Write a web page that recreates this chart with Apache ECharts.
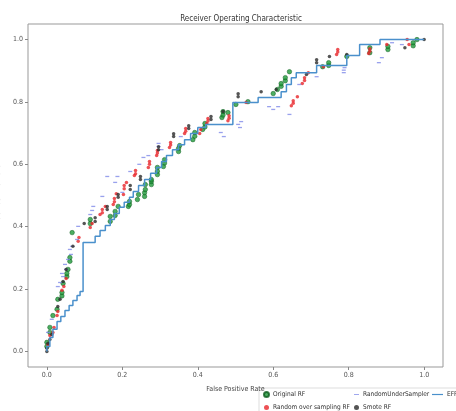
<!DOCTYPE html>
<html>
<head>
<meta charset="utf-8">
<script src="https://cdn.jsdelivr.net/npm/echarts@6/dist/echarts.min.js"></script>
<style>
html, body { margin: 0; padding: 0; background: #fff; }
#roc { width: 456px; height: 411px; }
</style>
</head>
<body>
<div id="roc"></div>
<script>
// tick labels on both axes
var tickValues = [0, 0.2, 0.4, 0.6, 0.8, 1.0];

// EFRF roc curve, corner points (fpr, tpr), drawn as steps
var efrfFpr = [0, 0, 0.008, 0.016, 0.027, 0.037, 0.048, 0.059, 0.069, 0.08, 0.088, 0.096,
	0.128, 0.141, 0.155, 0.168, 0.179, 0.192, 0.205, 0.219, 0.229, 0.243, 0.259, 0.275,
	0.291, 0.304, 0.317, 0.333, 0.349, 0.365, 0.381, 0.4, 0.421, 0.493, 0.56, 0.621,
	0.635, 0.648, 0.661, 0.715, 0.795, 0.829, 0.883, 1.0];
var efrfTpr = [0, 0.016, 0.045, 0.071, 0.096, 0.112, 0.131, 0.147, 0.163, 0.179, 0.192, 0.349,
	0.369, 0.388, 0.404, 0.423, 0.442, 0.462, 0.478, 0.494, 0.513, 0.532, 0.551, 0.571,
	0.59, 0.609, 0.628, 0.647, 0.663, 0.679, 0.699, 0.718, 0.728, 0.798, 0.814, 0.833,
	0.856, 0.878, 0.894, 0.917, 0.949, 0.984, 1.0, 1.0];

// scatter points (fpr, tpr) for the other models
var originalRF = [
	[0, 0.016], [0, 0.029], [0.008, 0.061], [0.008, 0.077], [0.016, 0.115], [0.027, 0.135],
	[0.029, 0.167], [0.04, 0.178], [0.04, 0.189], [0.043, 0.218], [0.053, 0.24], [0.053, 0.25],
	[0.056, 0.263], [0.061, 0.289], [0.061, 0.301], [0.067, 0.381], [0.115, 0.41], [0.115, 0.423],
	[0.168, 0.417], [0.168, 0.433], [0.181, 0.436], [0.181, 0.449], [0.189, 0.465], [0.216, 0.465],
	[0.219, 0.471], [0.219, 0.481], [0.24, 0.487], [0.243, 0.503], [0.259, 0.497], [0.259, 0.509],
	[0.261, 0.519], [0.261, 0.535], [0.277, 0.535], [0.277, 0.545], [0.277, 0.551], [0.293, 0.567],
	[0.293, 0.578], [0.293, 0.59], [0.309, 0.593], [0.312, 0.604], [0.312, 0.615], [0.349, 0.641],
	[0.349, 0.651], [0.352, 0.66], [0.387, 0.679], [0.392, 0.69], [0.392, 0.702], [0.413, 0.712],
	[0.419, 0.72], [0.419, 0.731], [0.464, 0.75], [0.467, 0.758], [0.467, 0.769], [0.48, 0.766],
	[0.501, 0.792], [0.533, 0.801], [0.6, 0.827], [0.611, 0.84], [0.621, 0.85], [0.621, 0.859],
	[0.632, 0.868], [0.632, 0.878], [0.643, 0.897], [0.731, 0.913], [0.747, 0.917], [0.747, 0.926],
	[0.795, 0.946], [0.856, 0.958], [0.856, 0.974], [0.904, 0.968], [0.904, 0.978], [0.971, 0.98],
	[0.971, 0.99], [0.981, 1.0]
];
var overSamplingRF = [
	[0.003, 0.022], [0.008, 0.051], [0.016, 0.061], [0.019, 0.077], [0.027, 0.115], [0.029, 0.128],
	[0.04, 0.196], [0.045, 0.208], [0.051, 0.234], [0.083, 0.353], [0.085, 0.365], [0.115, 0.397],
	[0.12, 0.41], [0.141, 0.439], [0.147, 0.445], [0.147, 0.455], [0.155, 0.465], [0.176, 0.471],
	[0.179, 0.48], [0.179, 0.49], [0.184, 0.506], [0.203, 0.503], [0.205, 0.522], [0.205, 0.532],
	[0.211, 0.542], [0.232, 0.564], [0.235, 0.57], [0.235, 0.58], [0.269, 0.59], [0.272, 0.6],
	[0.272, 0.609], [0.291, 0.628], [0.293, 0.636], [0.293, 0.644], [0.325, 0.654], [0.328, 0.662],
	[0.328, 0.67], [0.365, 0.699], [0.368, 0.706], [0.368, 0.715], [0.405, 0.699], [0.408, 0.712],
	[0.424, 0.731], [0.427, 0.739], [0.427, 0.747], [0.48, 0.74], [0.483, 0.748], [0.483, 0.756],
	[0.528, 0.798], [0.648, 0.788], [0.653, 0.796], [0.653, 0.804], [0.664, 0.817], [0.677, 0.859],
	[0.683, 0.869], [0.683, 0.878], [0.693, 0.894], [0.733, 0.913], [0.768, 0.952], [0.771, 0.96],
	[0.771, 0.968], [0.853, 0.955], [0.856, 0.963], [0.856, 0.971], [0.901, 0.984], [0.955, 1.0],
	[0.96, 0.984]
];
var underSampler = [
	[0.003, 0.061], [0.013, 0.103], [0.029, 0.208], [0.035, 0.221], [0.043, 0.24], [0.04, 0.25],
	[0.051, 0.263], [0.048, 0.279], [0.056, 0.295], [0.064, 0.311], [0.061, 0.327], [0.067, 0.337],
	[0.08, 0.359], [0.083, 0.401], [0.115, 0.439], [0.12, 0.452], [0.123, 0.465], [0.147, 0.497],
	[0.2, 0.51], [0.16, 0.561], [0.187, 0.561], [0.181, 0.542], [0.221, 0.577], [0.245, 0.6],
	[0.256, 0.622], [0.269, 0.628], [0.296, 0.657], [0.296, 0.667], [0.304, 0.647], [0.355, 0.689],
	[0.461, 0.702], [0.469, 0.689], [0.507, 0.728], [0.512, 0.718], [0.515, 0.737], [0.589, 0.785],
	[0.6, 0.776], [0.613, 0.785], [0.643, 0.76], [0.669, 0.856], [0.715, 0.881], [0.787, 0.894],
	[0.787, 0.902], [0.789, 0.91], [0.88, 0.926], [0.888, 0.942], [0.915, 0.99], [0.941, 0.984]
];
var smoteRF = [
	[0, 0], [0, 0.01], [0.003, 0.026], [0.008, 0.038], [0.013, 0.054], [0.029, 0.144],
	[0.035, 0.167], [0.043, 0.224], [0.051, 0.263], [0.069, 0.337], [0.099, 0.41], [0.128, 0.417],
	[0.128, 0.429], [0.16, 0.455], [0.16, 0.465], [0.189, 0.494], [0.189, 0.503], [0.221, 0.519],
	[0.221, 0.532], [0.248, 0.551], [0.248, 0.561], [0.296, 0.647], [0.296, 0.656], [0.336, 0.689],
	[0.336, 0.698], [0.376, 0.715], [0.376, 0.724], [0.435, 0.744], [0.435, 0.753], [0.467, 0.769],
	[0.507, 0.817], [0.507, 0.826], [0.568, 0.833], [0.608, 0.84], [0.688, 0.888], [0.715, 0.926],
	[0.715, 0.935], [0.749, 0.946], [0.795, 0.952], [0.949, 0.974], [1.0, 1.0]
];

var narrow = '"Liberation Sans Narrow", "DejaVu Sans Condensed", sans-serif';

var efrfData = [];
for (var i = 0; i < efrfFpr.length; i++) {
	efrfData.push([efrfFpr[i], efrfTpr[i]]);
}

function fmt(v) {
	return v.toFixed(1);
}

var legendText = { fontFamily: narrow, fontSize: 6.5, color: '#333', padding: [0, 0, 0, -1] };

var chart = echarts.init(document.getElementById('roc'));

var option = {
	animation: false,
	backgroundColor: '#fff',
	title: {
		text: 'Receiver Operating Characteristic',
		left: 236,
		top: 10,
		textAlign: 'center',
		textStyle: { fontFamily: narrow, fontSize: 8, fontWeight: 'normal', color: '#333' }
	},
	grid: {
		left: 28,
		top: 24,
		width: 415,
		height: 343,
		containLabel: false,
		outerBoundsMode: 'none',
		show: true,
		borderColor: '#999',
		borderWidth: 1
	},
	xAxis: {
		type: 'value',
		min: -0.05,
		max: 1.05,
		name: 'False Positive Rate',
		nameLocation: 'middle',
		nameGap: 19,
		nameTextStyle: { fontFamily: narrow, fontSize: 7, color: '#444' },
		axisLine: { show: false, onZero: false },
		splitLine: { show: false },
		axisTick: { show: true, length: 3, lineStyle: { color: '#888' }, customValues: tickValues },
		axisLabel: { fontFamily: narrow, fontSize: 7, color: '#555', margin: 5, customValues: tickValues, formatter: fmt }
	},
	yAxis: {
		type: 'value',
		min: -0.05,
		max: 1.05,
		name: 'True Positive Rate',
		nameLocation: 'middle',
		nameGap: 16,
		nameTextStyle: { fontFamily: 'DejaVu Sans', fontSize: 7, color: '#555' },
		axisLine: { show: false, onZero: false },
		splitLine: { show: false },
		axisTick: { show: true, length: 3, lineStyle: { color: '#888' }, customValues: tickValues },
		axisLabel: { fontFamily: narrow, fontSize: 7, color: '#555', margin: 5, customValues: tickValues, formatter: fmt }
	},
	graphic: [{
		type: 'rect',
		shape: { x: 259, y: 388, width: 210, height: 40, r: 2 },
		style: { fill: '#fff', stroke: '#ddd', lineWidth: 1 },
		z: 0
	}],
	legend: [{
		orient: 'vertical',
		left: 263,
		top: 391,
		padding: 0,
		itemGap: 6,
		itemWidth: 5,
		itemHeight: 5,
		textStyle: legendText,
		data: [
			{ name: 'Original RF', icon: 'circle' },
			{ name: 'Random over sampling RF', icon: 'circle' }
		]
	}, {
		orient: 'vertical',
		left: 354,
		top: 391,
		padding: 0,
		itemGap: 6,
		itemWidth: 5,
		itemHeight: 5,
		textStyle: legendText,
		data: [
			{ name: 'RandomUnderSampler', icon: 'path://M0,4L8,4L8,5.5L0,5.5Z' },
			{ name: 'Smote RF', icon: 'circle' }
		]
	}, {
		orient: 'vertical',
		left: 432,
		top: 391,
		padding: 0,
		itemWidth: 11,
		itemHeight: 5,
		textStyle: legendText,
		data: [{ name: 'EFRF', icon: 'path://M0,2L12,2L12,3.3L0,3.3Z' }]
	}],
	series: [{
		name: 'Original RF',
		type: 'scatter',
		symbol: 'circle',
		symbolSize: 4.5,
		itemStyle: { color: '#1f9a3a', borderColor: '#0b5a1c', borderWidth: 0.6 },
		data: originalRF
	}, {
		name: 'Random over sampling RF',
		type: 'scatter',
		symbol: 'circle',
		symbolSize: 3.5,
		itemStyle: { color: '#e8262a' },
		data: overSamplingRF
	}, {
		name: 'RandomUnderSampler',
		type: 'scatter',
		symbol: 'rect',
		symbolSize: [4, 1.3],
		itemStyle: { color: '#7f8ae8' },
		data: underSampler
	}, {
		name: 'Smote RF',
		type: 'scatter',
		symbol: 'circle',
		symbolSize: 3.5,
		itemStyle: { color: '#2a2a2a' },
		data: smoteRF
	}, {
		name: 'EFRF',
		type: 'line',
		step: 'end',
		showSymbol: false,
		symbol: 'none',
		lineStyle: { color: '#4a90cc', width: 1.5 },
		itemStyle: { color: '#4a90cc' },
		data: efrfData
	}]
};
chart.setOption(option);
</script>
</body>
</html>
